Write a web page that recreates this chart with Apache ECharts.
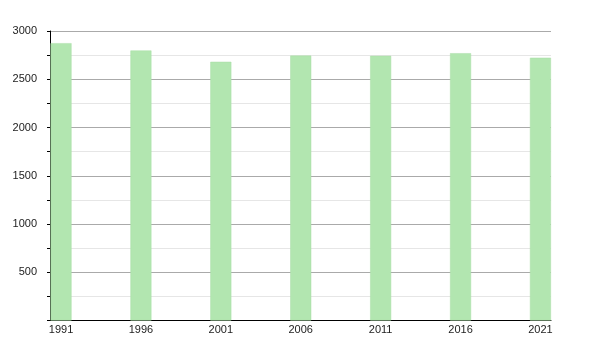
<!DOCTYPE html>
<html>
<head>
<meta charset="utf-8">
<script src="https://cdn.jsdelivr.net/npm/echarts@6/dist/echarts.min.js"></script>
<style>html,body{margin:0;padding:0;background:#fff}#c{width:600px;height:350px}</style>
</head>
<body>
<div id="c"></div>
<script>
var years = [1991, 1996, 2001, 2006, 2011, 2016, 2021];
var population = [2874, 2798, 2681, 2745, 2743, 2770, 2723];
var yTicks = [0, 500, 1000, 1500, 2000, 2500, 3000];

var chart = echarts.init(document.getElementById('c'), null, {renderer: 'canvas'});
chart.setOption({
  animation: false,
  grid: {left: 50, right: 49, top: 31, bottom: 29.5, containLabel: false},
  xAxis: {
    type: 'value',
    min: 1990.31,
    max: 2021.66,
    axisLine: {show: true, lineStyle: {color: '#000', width: 1}},
    axisTick: {show: false},
    splitLine: {show: false},
    axisLabel: {
      customValues: years,
      color: '#222',
      fontFamily: 'Liberation Sans, Arial, sans-serif',
      fontSize: 11,
      margin: 4,
      formatter: function (v) { return String(Math.round(v)); }
    }
  },
  yAxis: {
    type: 'value',
    min: yTicks[0],
    max: yTicks[yTicks.length - 1],
    interval: 500,
    axisLine: {show: true, lineStyle: {color: '#000', width: 1}},
    axisTick: {show: true, length: 3, lineStyle: {color: '#000'}},
    minorTick: {show: true, splitNumber: 2, length: 3, lineStyle: {color: '#000'}},
    splitLine: {show: true, lineStyle: {color: '#aaaaaa', width: 1}},
    minorSplitLine: {show: true, lineStyle: {color: '#e6e6e6', width: 1}},
    axisLabel: {
      color: '#222',
      fontFamily: 'Liberation Sans, Arial, sans-serif',
      fontSize: 11,
      margin: 13,
      formatter: function (v) { return v === 0 ? '' : String(v); }
    }
  },
  series: [{
    type: 'bar',
    barWidth: 21,
    data: years.map(function (y, i) { return [y, population[i]]; }),
    itemStyle: {color: '#b2e6b0', borderColor: '#a8dca6', borderWidth: 0.5}
  }]
});
</script>
</body>
</html>
